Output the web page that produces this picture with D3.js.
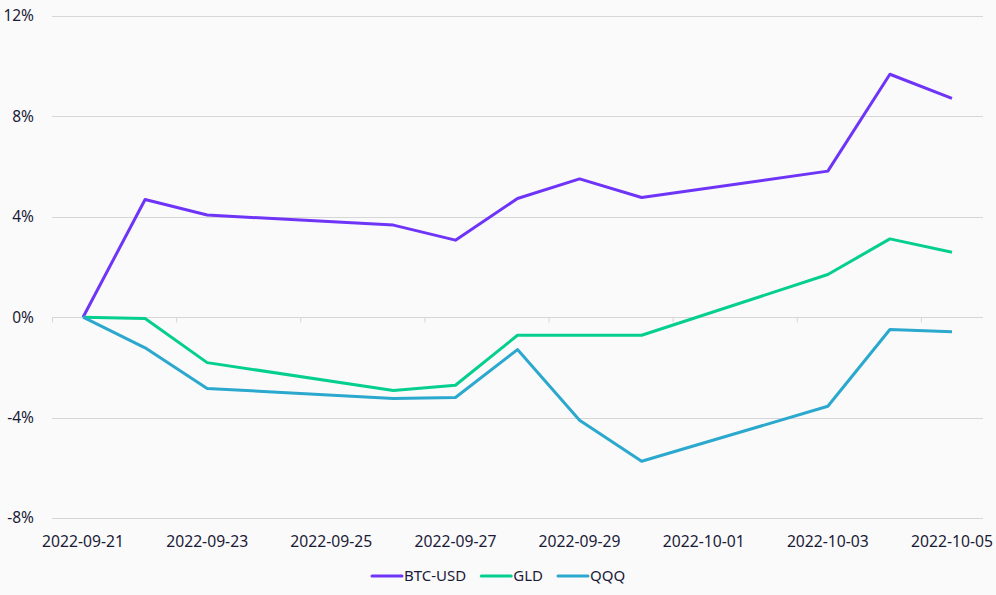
<!DOCTYPE html>
<html>
<head>
<meta charset="utf-8">
<script src="https://cdn.jsdelivr.net/npm/d3@7"></script>
<style>
  body { margin: 0; background: #fafafa; }
  text { font-family: "Noto Sans", sans-serif; fill: #1b1b38; }
</style>
</head>
<body>
<div class="demo"></div>
<script>
(function() {
    // trading days and cumulative % change
    var dates = ["2022-09-21", "2022-09-22", "2022-09-23", "2022-09-26", "2022-09-27",
                 "2022-09-28", "2022-09-29", "2022-09-30", "2022-10-03", "2022-10-04", "2022-10-05"];
    var btc = [0, 4.69, 4.07, 3.67, 3.07, 4.73, 5.51, 4.77, 5.82, 9.68, 8.72];
    var gld = [0, -0.05, -1.81, -2.92, -2.71, -0.72, -0.72, -0.72, 1.70, 3.12, 2.59];
    var qqq = [0, -1.22, -2.84, -3.24, -3.20, -1.29, -4.11, -5.74, -3.55, -0.49, -0.58];
    var seriesNames = ["BTC-USD", "GLD", "QQQ"];
    var yTicks = [-8, -4, 0, 4, 8, 12];

    var colors = ["#6e34f8", "#05cf8e", "#2ba8cd"];
    var series = [btc, gld, qqq];

    var width = 996,
        height = 595;

    var margin = {top: 16, right: 13, bottom: 77, left: 52};

    var parse = d3.utcParse("%Y-%m-%d");
    var days = dates.map(parse);

    var x = d3.scaleUtc()
        .domain([d3.utcHour.offset(days[0], -12), d3.utcHour.offset(days[days.length - 1], 12)])
        .range([margin.left, width - margin.right]);

    var y = d3.scaleLinear()
        .domain([-8, 12])
        .range([height - margin.bottom, margin.top]);

    var svg = d3.select(".demo").append("svg")
        .attr("width", width)
        .attr("height", height);

    // horizontal grid
    svg.append("g")
        .selectAll("line")
        .data(yTicks)
        .enter().append("line")
        .attr("x1", margin.left)
        .attr("x2", width - margin.right)
        .attr("y1", function(d) { return Math.round(y(d)) + 0.5; })
        .attr("y2", function(d) { return Math.round(y(d)) + 0.5; })
        .attr("stroke", "#d6d6d6")
        .attr("stroke-width", 1);

    // y labels
    svg.append("g")
        .selectAll("text")
        .data(yTicks)
        .enter().append("text")
        .attr("x", 34)
        .attr("y", function(d) { return y(d); })
        .attr("dy", "0.35em")
        .attr("text-anchor", "end")
        .style("font-size", "15.5px")
        .text(function(d) { return d + "%"; });

    // x tick marks sit on the zero line, half a day before each label
    var labelDays = d3.utcDay.range(days[0], d3.utcDay.offset(days[days.length - 1], 1), 2);
    var tickDays = labelDays.map(function(d) { return d3.utcHour.offset(d, -12); });

    var xAxis = d3.axisBottom(x)
        .tickValues(tickDays)
        .tickSize(5)
        .tickFormat("");

    svg.append("g")
        .attr("transform", "translate(0," + (Math.round(y(0)) + 0.5) + ")")
        .call(xAxis)
        .call(function(g) {
            g.select(".domain").remove();
            g.selectAll(".tick line").attr("stroke", "#d6d6d6");
        });

    // x labels
    svg.append("g")
        .selectAll("text")
        .data(labelDays)
        .enter().append("text")
        .attr("x", function(d) { return x(d); })
        .attr("y", 542)
        .attr("dy", "0.35em")
        .attr("text-anchor", "middle")
        .style("font-size", "15.7px")
        .text(d3.utcFormat("%Y-%m-%d"));

    var line = d3.line()
        .x(function(d, i) { return x(days[i]); })
        .y(function(d) { return y(d); });

    svg.append("g")
        .selectAll("path")
        .data(series)
        .enter().append("path")
        .attr("d", line)
        .attr("fill", "none")
        .attr("stroke", function(d, i) { return colors[i]; })
        .attr("stroke-width", 3)
        .attr("stroke-linejoin", "round");

    // legend
    var legend = svg.append("g").attr("transform", "translate(0,576)");
    var lx = 372;
    seriesNames.forEach(function(name, i) {
        legend.append("line")
            .attr("x1", lx).attr("x2", lx + 30)
            .attr("stroke", colors[i])
            .attr("stroke-width", 3)
            .attr("stroke-linecap", "round");
        var t = legend.append("text")
            .attr("x", lx + 32)
            .attr("dy", "0.35em")
            .style("font-size", "15px")
            .text(name);
        lx += 32 + t.node().getComputedTextLength() + 15;
    });
})();
</script>
</body>
</html>
